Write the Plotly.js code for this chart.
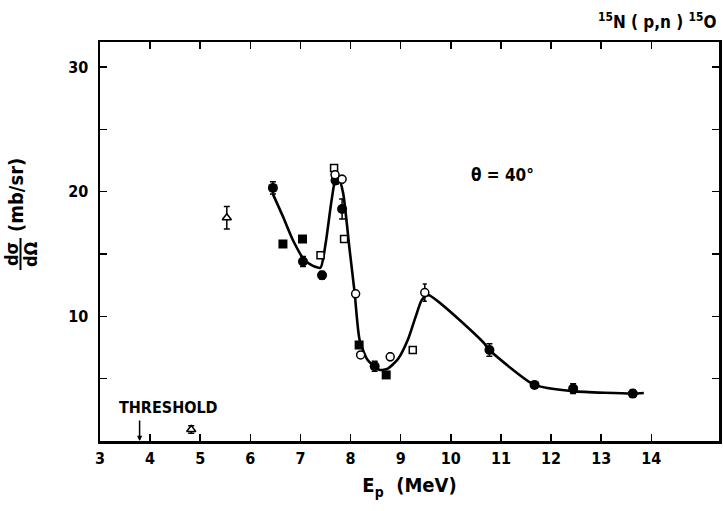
<!DOCTYPE html>
<html>
<head>
<meta charset="utf-8">
<script src="https://cdn.plot.ly/plotly-3.0.1.min.js"></script>
<style>html,body{margin:0;padding:0;background:#fff;}#chart{width:723px;height:511px;}</style>
</head>
<body>
<div id="chart"></div>
<script>
// ---- data ----
const fcE = [6.45, 7.05, 7.43, 7.70, 7.83, 8.48, 10.77, 11.67, 12.44, 13.63];
const fcV = [20.3, 14.4, 13.3, 20.9, 18.6, 6.0, 7.3, 4.5, 4.2, 3.8];
const fcErr = [0.5, 0.4, 0.3, 0.3, 0.8, 0.4, 0.5, 0.2, 0.4, 0.3];

const fsE = [6.65, 7.04, 8.17, 8.71];
const fsV = [15.8, 16.2, 7.7, 5.3];

const ocE = [7.69, 7.83, 8.10, 8.20, 8.79, 9.48];
const ocV = [21.35, 21.0, 11.8, 6.9, 6.75, 11.9];
const ocErr = [0.2, 0.3, 0.2, 0.2, 0.3, 0.7];

const osE = [7.40, 7.67, 7.87, 9.24];
const osV = [14.9, 21.9, 16.2, 7.3];

const otE = [5.53, 4.82];
const otV = [17.9, 0.92];
const otErr = [0.9, 0.3];

const curveE = [6.45, 6.65, 6.85, 7.08, 7.28, 7.40, 7.50, 7.62, 7.70, 7.76, 7.85, 7.98, 8.08, 8.18, 8.34, 8.58, 8.74, 8.95, 9.15, 9.3, 9.42, 9.55, 10.65, 10.77, 11.67, 12.44, 13.63, 13.85];
const curveV = [19.8, 18.0, 16.1, 14.5, 14.0, 13.9, 15.8, 19.3, 21.0, 21.1, 19.9, 15.35, 11.9, 8.1, 6.5, 5.7, 5.8, 6.6, 8.2, 10.0, 11.3, 11.7, 7.9, 7.3, 4.5, 4.0, 3.8, 3.85];

const xTicks = [3, 4, 5, 6, 7, 8, 9, 10, 11, 12, 13, 14];
const yTicks = [5, 10, 15, 20, 25, 30];
const yTickText = ['', '10', '', '20', '', '30'];
const thresholdE = 3.79;

// ---- layout helpers ----
const W = 723, H = 511;
const M = {l: 100, r: 4, t: 42, b: 70};
const pw = W - M.l - M.r, ph = H - M.t - M.b;
const px = v => (v - M.l) / pw;          // pixel -> paper x
const py = v => (H - M.b - v) / ph;      // pixel -> paper y

const FONT = '"DejaVu Sans Condensed", "DejaVu Sans", sans-serif';

const traces = [
  {x: curveE, y: curveV, mode: 'lines', line: {color: '#000', width: 2.6, shape: 'spline', smoothing: 0.6}, hoverinfo: 'skip'},
  {x: otE, y: otV, mode: 'markers', marker: {symbol: 'triangle-up', size: 8, color: '#fff', line: {color: '#000', width: 1.5}},
   error_y: {type: 'data', array: otErr, color: '#000', thickness: 1.5, width: 3}},
  {x: fsE, y: fsV, mode: 'markers', marker: {symbol: 'square', size: 9, color: '#000'}},
  {x: osE, y: osV, mode: 'markers', marker: {symbol: 'square', size: 7, color: '#fff', line: {color: '#000', width: 1.5}}},
  {x: fcE, y: fcV, mode: 'markers', marker: {symbol: 'circle', size: 10, color: '#000'},
   error_y: {type: 'data', array: fcErr, color: '#000', thickness: 1.5, width: 3}},
  {x: ocE, y: ocV, mode: 'markers', marker: {symbol: 'circle', size: 8, color: '#fff', line: {color: '#000', width: 1.5}},
   error_y: {type: 'data', array: ocErr, color: '#000', thickness: 1.5, width: 2}}
];

const axisCommon = {showline: true, linecolor: '#000', linewidth: 2.5, mirror: 'ticks', ticks: 'inside',
  ticklen: 7, tickwidth: 1.5, tickcolor: '#000', showgrid: false, zeroline: false,
  tickfont: {family: FONT, size: 16, color: '#000', weight: 'bold'}};

const layout = {
  width: W, height: H, margin: M, showlegend: false,
  paper_bgcolor: '#fff', plot_bgcolor: '#fff',
  font: {family: FONT, color: '#000'},
  xaxis: Object.assign({}, axisCommon, {range: [3, 15.35], tickmode: 'array', tickvals: xTicks,
    ticktext: xTicks.map(String), ticklabelstandoff: 1,
    title: {text: 'E<sub>p</sub>  (MeV)', font: {family: FONT, size: 20, color: '#000', weight: 'bold'}, standoff: 12}}),
  yaxis: Object.assign({}, axisCommon, {range: [0, 32], tickmode: 'array', tickvals: yTicks, ticktext: yTickText,
    ticklabelstandoff: 6}),
  annotations: [
    {xref: 'paper', yref: 'paper', x: px(719), y: py(21), text: '<sup>15</sup>N ( p,n ) <sup>15</sup>O', showarrow: false,
     font: {family: FONT, size: 17, color: '#000', weight: 'bold'}, xanchor: 'right', yanchor: 'middle'},
    {xref: 'paper', yref: 'paper', x: px(502), y: py(175), text: 'θ = 40°', showarrow: false,
     font: {family: FONT, size: 17, color: '#000', weight: 'bold'}, xanchor: 'center', yanchor: 'middle'},
    {xref: 'paper', yref: 'paper', x: px(168), y: py(407), text: 'THRESHOLD', showarrow: false,
     font: {family: FONT, size: 16, color: '#000', weight: 'bold'}, xanchor: 'center', yanchor: 'middle'},
    {x: thresholdE, y: 0, xref: 'x', yref: 'y', text: '', showarrow: true, arrowhead: 2, arrowsize: 0.7, arrowwidth: 1.5,
     arrowcolor: '#000', ax: 0, ay: -22},
    {xref: 'paper', yref: 'paper', x: px(16), y: py(195), text: '(mb/sr)', textangle: -90, showarrow: false,
     font: {family: FONT, size: 20, color: '#000', weight: 'bold'}, xanchor: 'center', yanchor: 'middle'},
    {xref: 'paper', yref: 'paper', x: px(11), y: py(254), text: 'dσ', textangle: -90, showarrow: false,
     font: {family: FONT, size: 18, color: '#000', weight: 'bold'}, xanchor: 'center', yanchor: 'middle'},
    {xref: 'paper', yref: 'paper', x: px(30), y: py(254), text: 'dΩ', textangle: -90, showarrow: false,
     font: {family: FONT, size: 18, color: '#000', weight: 'bold'}, xanchor: 'center', yanchor: 'middle'}
  ],
  shapes: [
    {type: 'line', xref: 'paper', yref: 'paper', x0: px(20.5), x1: px(20.5), y0: py(238), y1: py(270),
     line: {color: '#000', width: 2}}
  ]
};

Plotly.newPlot('chart', traces, layout, {displayModeBar: false, staticPlot: true});
</script>
</body>
</html>
